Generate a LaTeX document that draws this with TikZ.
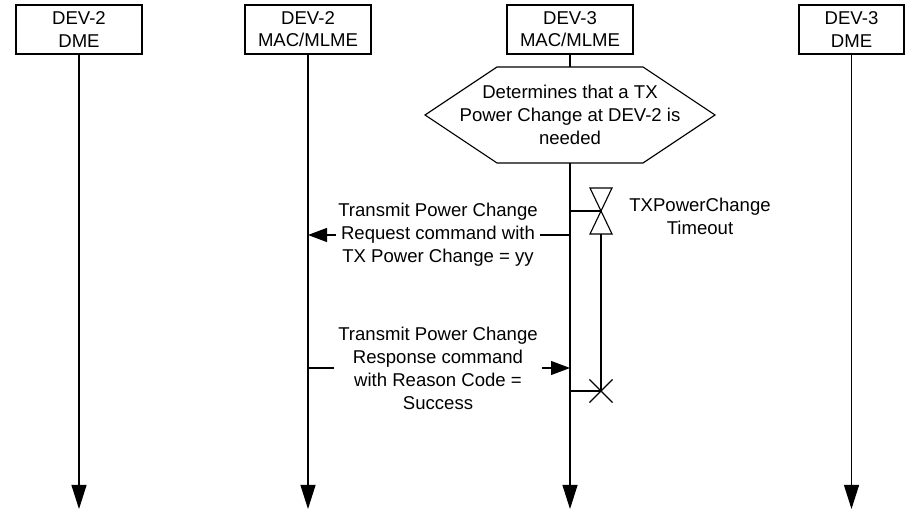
\documentclass[tikz,border=0pt]{standalone}
\usepackage{fontspec}
\setmainfont{Liberation Sans}
\usetikzlibrary{arrows.meta,positioning,calc}

\begin{document}
\begin{tikzpicture}[
  ent/.style={draw, line width=0.9pt, minimum width=3.15cm, minimum height=1.225cm, inner sep=0pt, align=center, font=\fontsize{13.2}{15.8}\selectfont},
  msg/.style={fill=white, inner sep=1.5pt, align=center, font=\fontsize{13.2}{16.3}\selectfont},
  life/.style={line width=0.8pt, -{Triangle[length=0.6cm, width=0.375cm]}},
  sig/.style={line width=0.8pt, -{Triangle[length=0.475cm, width=0.35cm]}},
  thin/.style={line width=0.8pt}
]
  \useasboundingbox (0,0) rectangle (22.725,12.85);

  %% Entities
  \node[ent] (d2dme) at (1.975,12.1125) {DEV-2\\DME};
  \node[ent] (d2mac) at (7.7,12.1125)   {DEV-2\\MAC/MLME};
  \node[ent] (d3mac) at (14.25,12.1125) {DEV-3\\MAC/MLME};
  \node[ent, minimum width=2.625cm] (d3dme) at (21.2875,12.1125) {DEV-3\\DME};

  %% Lifelines
  \coordinate (d2dme-end) at (1.975,0.125);
  \coordinate (d2mac-end) at (7.7,0.125);
  \coordinate (d3mac-end) at (14.25,0.125);
  \coordinate (d3dme-end) at (21.2875,0.125);
  \draw[life] (d2dme) -- (d2dme-end);
  \draw[life] (d2mac) -- (d2mac-end);
  \draw[life] (d3mac) -- (d3mac-end);
  \draw[life] (d3dme) -- (d3dme-end);

  %% Decision
  \coordinate (hexc) at (14.25,9.975);
  \draw[thin, fill=white] ($(hexc)+(-3.625,0)$) -- ($(hexc)+(-1.825,1.2)$) -- ($(hexc)+(1.825,1.2)$)
    -- ($(hexc)+(3.625,0)$) -- ($(hexc)+(1.825,-1.2)$) -- ($(hexc)+(-1.825,-1.2)$) -- cycle;
  \node[msg, fill=none] (decide) at (hexc) {Determines that a TX\\Power Change at DEV-2 is\\needed};

  %% Timer
  \coordinate (tmr) at (15.025,7.575);
  \coordinate (tmo) at (15.025,3.075);
  \draw[thin] (d3mac |- tmr) -- (tmr);
  \draw[thin] ($(tmr)+(-0.275,0.575)$) -- ($(tmr)+(0.275,0.575)$) -- ($(tmr)+(-0.275,-0.575)$)
    -- ($(tmr)+(0.275,-0.575)$) -- cycle;
  \draw[thin] ($(tmr)+(0,-0.575)$) -- (tmo);
  \draw[thin] (d3mac |- tmo) -- (tmo);
  \draw[thin] ($(tmo)+(-0.29,0.29)$) -- ($(tmo)+(0.29,-0.29)$)
              ($(tmo)+(-0.29,-0.29)$) -- ($(tmo)+(0.29,0.29)$);
  \node[msg, fill=none] (tmrlbl) at (17.5,7.4375) {TXPowerChange\\Timeout};

  %% Request
  \coordinate (reqc) at (10.95,6.975);
  \draw[sig] (d3mac |- reqc) -- (d2mac |- reqc);
  \node[msg] (req) at (reqc) {Transmit Power Change\\Request command with\\TX Power Change = yy};

  %% Response
  \coordinate (rspc) at (10.95,3.65);
  \draw[sig] (d2mac |- rspc) -- (d3mac |- rspc);
  \node[msg, inner xsep=3pt] (rsp) at (rspc) {Transmit Power Change\\Response command\\with Reason Code =\\Success};
\end{tikzpicture}
\end{document}
